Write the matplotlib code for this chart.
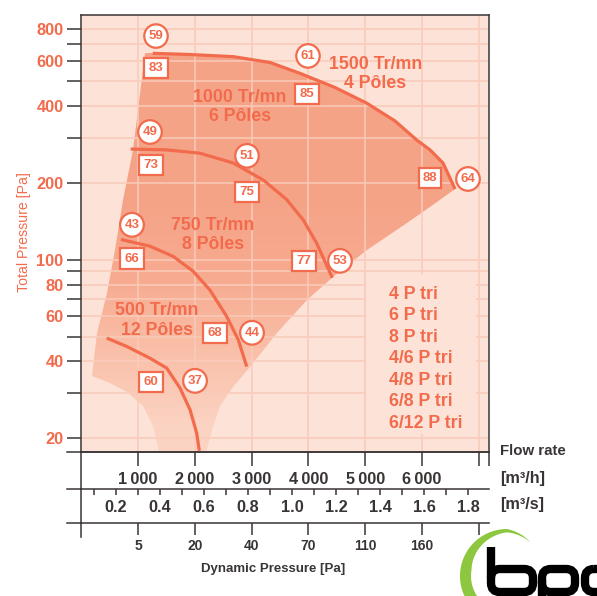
import numpy as np
import matplotlib
matplotlib.use('Agg')
import matplotlib.pyplot as plt
from matplotlib.patches import Polygon, Rectangle, FancyBboxPatch
from matplotlib.lines import Line2D
from matplotlib.colors import LinearSegmentedColormap
from matplotlib.transforms import blended_transform_factory

plt.rcParams['font.family'] = ['Liberation Sans', 'DejaVu Sans']

CORAL = '#F26B4C'
BG = '#FDE3D7'
GRID = '#F9CBBA'
DARK = '#3A3535'
W, H = 597, 596

# ---- data (flow rate in m3/h, total pressure in Pa) ----
q_1500 = [1259, 1916, 2678, 3324, 3852, 4468, 5026, 5525, 5907, 6141, 6370, 6475, 6581]
p_1500 = [642, 635, 623, 591, 536, 472, 410, 349, 294, 269, 239, 213, 189]
q_1000 = [871, 1505, 2092, 2678, 3206, 3618, 3910, 4146, 4421]
p_1000 = [271, 269, 261, 239, 205, 172, 143, 116, 85]
q_750 = [701, 1211, 1622, 1974, 2268, 2562, 2766, 2914]
p_750 = [120, 113, 103, 90, 76, 60, 48.6, 38.2]
q_500 = [449, 801, 1211, 1505, 1739, 1916, 2033, 2079]
p_500 = [49.4, 45.8, 41.2, 37.7, 31.5, 25.9, 21.0, 17.9]

# operating zone outline (left edge, lower-left curve, right edge)
zone_left_q = [1123, 1005, 917, 741, 595, 449, 273, 185, 507, 801, 1093, 1269, 1387]
zone_left_p = [646, 386, 269, 172, 109, 74, 51.6, 35.2, 32.9, 30.5, 26.7, 22.3, 17.0]
zone_right_q = [2180, 2300, 2444, 2673, 2972, 3447, 3975, 4433, 5032, 5736, 6264, 6581]
zone_right_p = [17.0, 21.6, 26.7, 31.8, 38.1, 51.8, 69.7, 85.8, 109, 139, 168, 189]

circle_labels = ['59', '61', '64', '49', '51', '43', '53', '44', '37']
circle_q = [1317, 3993, 6810, 1211, 2919, 894, 4556, 3007, 2004]
circle_p = [750, 627, 207, 316, 255, 137, 99, 51.8, 33.6]
square_labels = ['83', '85', '88', '73', '75', '66', '77', '68', '60']
square_q = [1317, 3975, 6141, 1229, 2919, 894, 3923, 2356, 1229]
square_p = [563, 445, 209, 235, 184, 101, 99, 51.8, 33.3]

speed_labels = ['1500 Tr/mn\n4 Pôles', '1000 Tr/mn\n6 Pôles', '750 Tr/mn\n8 Pôles', '500 Tr/mn\n12 Pôles']
speed_q = [5182, 2796, 2320, 1335]
speed_p = [532, 396, 125, 57.8]

motor_types = ['4 P tri', '6 P tri', '8 P tri', '4/6 P tri', '4/8 P tri', '6/8 P tri', '6/12 P tri']

p_ticks = [20, 30, 40, 50, 60, 70, 80, 90, 100, 200, 300, 400, 500, 600, 700, 800]
p_ticklabels = ['20', '', '40', '', '60', '', '80', '', '100', '200', '', '400', '', '600', '', '800']
q_ticks = [1000, 2000, 3000, 4000, 5000, 6000, 7000]
q_ticklabels = ['1\u2009000', '2\u2009000', '3\u2009000', '4\u2009000', '5\u2009000', '6\u2009000', '']
qs_ticks = [0.1, 0.2, 0.3, 0.4, 0.5, 0.6, 0.7, 0.8, 0.9, 1.0, 1.1, 1.2, 1.3, 1.4, 1.5, 1.6, 1.7, 1.8]
qs_ticklabels = ['0.2', '0.4', '0.6', '0.8', '1.0', '1.2', '1.4', '1.6', '1.8']
pdyn_ticklabels = ['5', '20', '40', '70', '110', '160', '']

Q_MAX = 7185
P_MIN, P_MAX = 17.7, 909


def fx(px):
    return px / W


def fy(py):
    return 1 - py / H


fig = plt.figure(figsize=(W / 100, H / 100), dpi=100)

# main chart
ax = fig.add_axes([fx(81.2), fy(452), fx(489.3) - fx(81.2), fy(14.7) - fy(452)])
ax.set_facecolor(BG)
ax.set_yscale('log')
ax.set_xlim(0, Q_MAX)
ax.set_ylim(P_MIN, P_MAX)

# shaded operating zone with a vertical gradient
zone_q = zone_left_q + zone_right_q + q_1500[::-1]
zone_p = zone_left_p + zone_right_p + p_1500[::-1]
zone = Polygon(np.column_stack([zone_q, zone_p]), closed=True, facecolor='none',
               edgecolor='none', transform=ax.transData)
ax.add_patch(zone)
cmap = LinearSegmentedColormap.from_list('zone', ['#FBD3C3', '#F9BFA8', '#F6AA8F', '#F5A387'])
pp = np.logspace(np.log10(16), np.log10(950), 200)
pm = np.sqrt(pp[:-1] * pp[1:])
t = np.clip((np.log10(pm) - np.log10(22)) / (np.log10(170) - np.log10(22)), 0, 1)
mesh = ax.pcolormesh([0, Q_MAX], pp, t[:, None], cmap=cmap, vmin=0, vmax=1,
                     shading='flat', zorder=1)
mesh.set_clip_path(zone)

# grid
for q in q_ticks:
    ax.axvline(q, color=GRID, lw=1.1, zorder=1.5)
for p in p_ticks:
    ax.axhline(p, color=GRID, lw=1.1, zorder=1.5)
# plain panel behind the motor list
ax.add_patch(Rectangle((0.698, 0.041), 0.269, 0.366, transform=ax.transAxes,
                       fc=BG, ec='none', zorder=1.6))

# fan curves
for qc, pc in [(q_1500, p_1500), (q_1000, p_1000), (q_750, p_750), (q_500, p_500)]:
    ax.plot(qc, pc, color=CORAL, lw=2.3, solid_capstyle='butt', zorder=2)

for lab, q, p in zip(circle_labels, circle_q, circle_p):
    ax.text(q, p, lab, ha='center', va='center', color=CORAL, fontsize=9.5,
            fontweight='bold', zorder=4,
            bbox=dict(boxstyle='circle,pad=0.33', fc='white', ec=CORAL, lw=1.6))
for lab, q, p in zip(square_labels, square_q, square_p):
    ax.text(q, p, lab, ha='center', va='center', color=CORAL, fontsize=9.5,
            fontweight='bold', zorder=4,
            bbox=dict(boxstyle='square,pad=0.32', fc='white', ec=CORAL, lw=1.6))

for lab, q, p in zip(speed_labels, speed_q, speed_p):
    ax.text(q, p, lab, ha='center', va='center', color=CORAL, fontsize=12.8,
            fontweight='bold', linespacing=1.2, zorder=3)

for i, lab in enumerate(motor_types):
    ax.text(0.7535, 0.3606 - i * 0.0492, lab, transform=ax.transAxes, ha='left',
            va='center', color=CORAL, fontsize=12.8, fontweight='bold', zorder=3)

ax.set_xticks([])
ax.set_yticks(p_ticks)
ax.set_yticklabels(p_ticklabels)
ax.yaxis.set_minor_locator(matplotlib.ticker.NullLocator())
ax.tick_params(axis='y', length=10, width=1.1, color=DARK, pad=2.7,
               labelsize=11.8, labelcolor=CORAL)
for lab in ax.get_yticklabels():
    lab.set_fontweight('bold')
for s in ax.spines.values():
    s.set_color(DARK)
    s.set_linewidth(1.1)

fig.text(fx(24.5), fy(232.5), 'Total Pressure [Pa]', rotation=90, ha='center',
         va='center', color=CORAL, fontsize=10.2)

# ---- scales under the chart ----
def scale_row(top, bottom, xlim, ticks, length):
    a = fig.add_axes([fx(81.2), fy(bottom), fx(489.3) - fx(81.2), fy(top) - fy(bottom)])
    a.set_xlim(*xlim)
    a.set_ylim(0, 1)
    a.patch.set_alpha(0)
    for side in ['right', 'bottom']:
        a.spines[side].set_visible(False)
    for side in ['left', 'top']:
        a.spines[side].set_color(DARK)
        a.spines[side].set_linewidth(1.1)
    a.set_yticks([])
    a.set_xticks(ticks)
    a.tick_params(axis='x', top=True, bottom=False, labelbottom=False,
                  direction='in', length=length, width=1.1, color=DARK)
    return a


ax_a = scale_row(452, 489, (0, Q_MAX), q_ticks + [Q_MAX], 10)
tr = blended_transform_factory(ax_a.transData, ax_a.transAxes)
for q, lab in zip(q_ticks, q_ticklabels):
    ax_a.text(q, 0.27, lab, transform=tr, ha='center', va='center', color=DARK,
              fontsize=11.7, fontweight='bold')

ax_b = scale_row(489, 523, (0.0436, 1.8952), qs_ticks, 4)
tr = blended_transform_factory(ax_b.transData, ax_b.transAxes)
for v, lab in zip(qs_ticks[1::2], qs_ticklabels):
    ax_b.text(v, 0.45, lab, transform=tr, ha='center', va='center', color=DARK,
              fontsize=11.7, fontweight='bold')

ax_c = scale_row(523, 537, (0, Q_MAX), q_ticks, 8.6)
tr = blended_transform_factory(ax_c.transData, ax_c.transAxes)
for q, lab in zip(q_ticks, pdyn_ticklabels):
    ax_c.text(q, -0.64, lab, transform=tr, ha='center', va='center', color=DARK,
              fontsize=10, fontweight='bold')

# left extensions of the scale lines
for y in [452, 489, 523]:
    fig.add_artist(Line2D([fx(67), fx(81.2)], [fy(y), fy(y)], color=DARK, lw=1.1))

fig.text(fx(500), fy(451), 'Flow rate', ha='left', va='center', color=DARK,
         fontsize=10.8, fontweight='bold')
fig.text(fx(500), fy(479), '[m³/h]', ha='left', va='center', color=DARK,
         fontsize=11.7, fontweight='bold')
fig.text(fx(500), fy(504), '[m³/s]', ha='left', va='center', color=DARK,
         fontsize=11.7, fontweight='bold')
fig.text(fx(273), fy(569), 'Dynamic Pressure [Pa]', ha='center', va='center',
         color=DARK, fontsize=9.5, fontweight='bold')

# ---- logo (pixel coordinates) ----
lg = fig.add_axes([0, 0, 1, 1], zorder=-1)
lg.set_xlim(0, W)
lg.set_ylim(H, 0)
lg.axis('off')
th = np.radians(np.linspace(55, 250, 120))
r_out = np.where(th < np.radians(90), 41 + 6 * (th - np.radians(55)) / np.radians(35), 47)
thick = np.clip(11 * (th - np.radians(55)) / np.radians(115), 0, 11)
cx, cy = 507, 576
outer = np.column_stack([cx + r_out * np.cos(th), cy - r_out * np.sin(th)])
inner = np.column_stack([cx + (r_out - thick) * np.cos(th), cy - (r_out - thick) * np.sin(th)])[::-1]
lg.add_patch(Polygon(np.vstack([outer, inner]), closed=True, fc='#8DC63F', ec='none'))
for x0, x1 in [(491, 533), (542, 575), (585, 625)]:
    lg.add_patch(FancyBboxPatch((x0, 569), x1 - x0, 23, boxstyle='round,pad=0,rounding_size=9',
                                fc='none', ec='black', lw=6))
lg.plot([491, 491], [547, 578], color='black', lw=6, solid_capstyle='butt')
lg.plot([542, 542], [580, 602], color='black', lw=6, solid_capstyle='butt')

fig.savefig('out.png', dpi=100)
